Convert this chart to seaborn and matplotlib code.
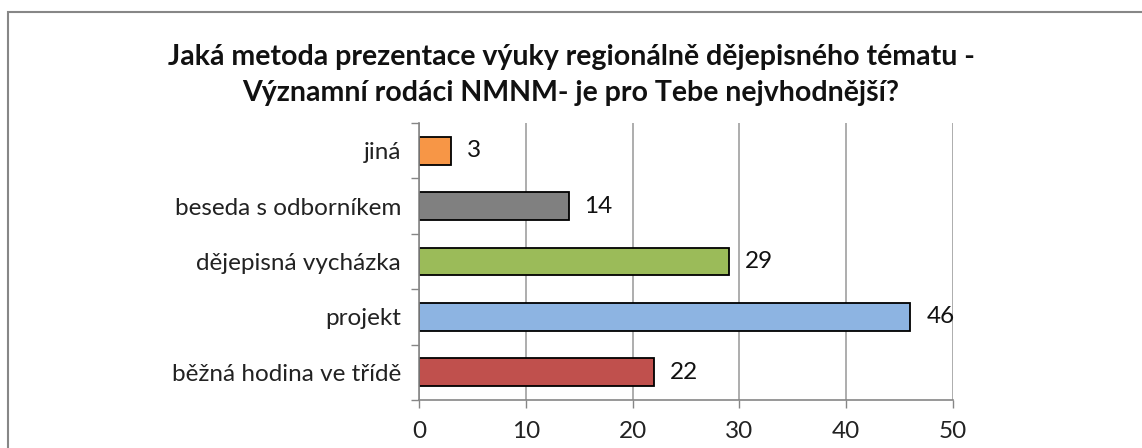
import matplotlib
matplotlib.use("Agg")
import matplotlib.pyplot as plt
import seaborn as sns
import pandas as pd
from matplotlib.patches import Rectangle

categories = ["jiná", "beseda s odborníkem", "dějepisná vycházka", "projekt", "běžná hodina ve třídě"]
values = [3, 14, 29, 46, 22]
colors = ["#F79646", "#808080", "#9BBB59", "#8DB4E2", "#C0504D"]
x_ticks = [0, 10, 20, 30, 40, 50]
title = "Jaká metoda prezentace výuky regionálně dějepisného tématu -\nVýznamní rodáci NMNM- je pro Tebe nejvhodnější?"

sns.set_theme(style="white")
plt.rcParams['font.family'] = ['Lato', 'DejaVu Sans']

df = pd.DataFrame({"cat": categories, "val": values})

fig = plt.figure(figsize=(11.42, 4.48), dpi=100)
ax = fig.add_axes([419/1142, 1-400/448, (953-419)/1142, (400-123)/448])

sns.barplot(data=df, y="cat", x="val", hue="cat", order=categories, hue_order=categories,
            palette=colors, orient="h", width=0.5, edgecolor="black", linewidth=1.3,
            legend=False, ax=ax, saturation=1)

fs = 17.5
ax.set_xlim(0, 50)
ax.set_ylim(len(categories) - 0.5, -0.5)
ax.set_xticks(x_ticks)
ax.set_xticklabels([str(t) for t in x_ticks], fontsize=fs)
ax.set_yticks(range(len(categories)))
ax.set_yticklabels(categories, fontsize=fs)
ax.set_yticks([i + 0.5 for i in range(-1, len(categories))], minor=True)
ax.tick_params(axis="y", which="major", length=0, pad=13, colors="#222222")
ax.tick_params(axis="y", which="minor", length=6, width=1, color="#868686", left=True)
ax.tick_params(axis="x", which="major", length=6, width=1, color="#868686", bottom=True, pad=9)
ax.tick_params(axis="x", colors="#868686", labelcolor="#222222")
ax.set_xlabel("")
ax.set_ylabel("")
ax.grid(axis="x", color="#A0A0A0", linewidth=1.2)
ax.set_axisbelow(True)
for s in ["top", "right"]:
    ax.spines[s].set_visible(False)
for s in ["left", "bottom"]:
    ax.spines[s].set_color("#868686")
    ax.spines[s].set_linewidth(1.2)

for i, v in enumerate(values):
    ax.text(v + 1.5, i, str(v), va="center", ha="left", fontsize=fs, color="#111111")

fig.text(0.5, 1 - 75/448, title, ha="center", va="center", fontsize=20.5, fontweight="bold",
         linespacing=1.5, color="#111111")

fig.patches.append(Rectangle((8/1142, -0.1), 1.2, 1 - 12/448 + 0.1, transform=fig.transFigure,
                             fill=False, edgecolor="#878787", linewidth=1.5))

fig.savefig("out.png", dpi=100)
